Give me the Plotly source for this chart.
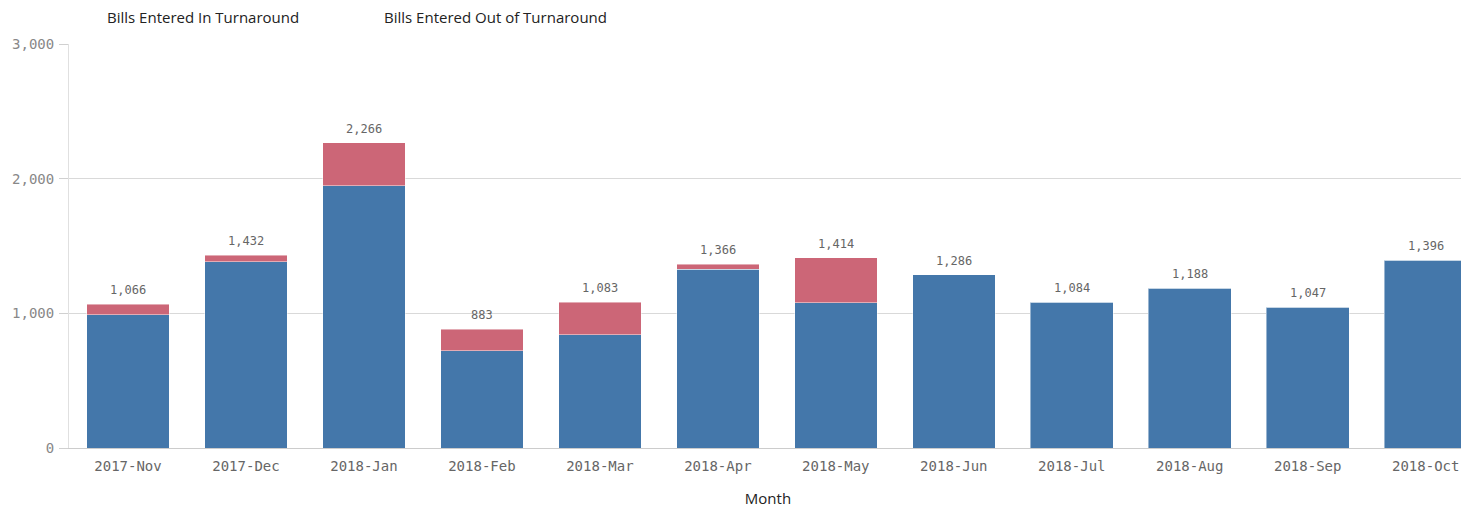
import plotly.graph_objects as go

months = ["2017-Nov", "2017-Dec", "2018-Jan", "2018-Feb", "2018-Mar", "2018-Apr",
          "2018-May", "2018-Jun", "2018-Jul", "2018-Aug", "2018-Sep", "2018-Oct"]
in_turnaround = [990, 1383, 1948, 721, 840, 1329, 1078, 1286, 1084, 1188, 1047, 1396]
out_turnaround = [76, 49, 318, 162, 243, 37, 336, 0, 0, 0, 0, 0]
totals = [1066, 1432, 2266, 883, 1083, 1366, 1414, 1286, 1084, 1188, 1047, 1396]
total_labels = [f"{v:,}" for v in totals]

series_names = ["Bills Entered In Turnaround", "Bills Entered Out of Turnaround"]
blue = "#4477aa"
red = "#cc6677"
mono = "DejaVu Sans Mono"
sans = "Open Sans"

# page body has an 8px margin in the browser; compensate
W, H = 1461, 500
L, T = 61, 36
PH = 404

fig = go.Figure()
fig.add_trace(go.Bar(x=months, y=in_turnaround, name=series_names[0],
                     marker=dict(color=blue, line=dict(color="rgba(255,255,255,0.45)", width=1)),
                     hoverinfo="x+y"))
fig.add_trace(go.Bar(x=months, y=out_turnaround, name=series_names[1],
                     marker=dict(color=red, line=dict(color="rgba(255,255,255,0.45)", width=1)),
                     hoverinfo="x+y"))

for m, v, lab in zip(months, totals, total_labels):
    fig.add_annotation(x=m, y=v, text=lab, showarrow=False, yanchor="bottom", yshift=5,
                       font=dict(family=mono, size=12, color="#666666"))

fig.add_annotation(text=series_names[0], xref="paper", yref="paper",
                   x=(105 - 69) / (W - L - 2), y=1 + (44 - 17) / PH, xanchor="left", yanchor="middle",
                   showarrow=False, font=dict(family=sans, size=15, color="#222222"))
fig.add_annotation(text=series_names[1], xref="paper", yref="paper",
                   x=(382 - 69) / (W - L - 2), y=1 + (44 - 17) / PH, xanchor="left", yanchor="middle",
                   showarrow=False, font=dict(family=sans, size=15, color="#222222"))

fig.update_layout(
    barmode="stack",
    bargap=0.30,
    width=W, height=H,
    margin=dict(l=L, r=2, t=T, b=H - T - PH),
    plot_bgcolor="white", paper_bgcolor="white",
    showlegend=False,
    xaxis=dict(
        range=[-0.5, 11.35],
        showgrid=False,
        showline=True, linecolor="#cccccc", linewidth=1,
        ticks="", ticklabelstandoff=5,
        tickfont=dict(family=mono, size=14, color="#666666"),
        title=dict(text="Month", font=dict(family=sans, size=15, color="#222222"), standoff=20),
    ),
    yaxis=dict(
        range=[0, 3000],
        tickvals=[0, 1000, 2000, 3000],
        tickformat=",",
        showgrid=True, gridcolor="#d9d9d9", gridwidth=1,
        showline=True, linecolor="#e0e0e0", linewidth=1,
        zeroline=False,
        ticks="outside", ticklen=9, tickcolor="#d0d0d0",
        ticklabelstandoff=2,
        tickfont=dict(family=mono, size=14, color="#888888"),
    ),
)

fig.write_html("out.html")
